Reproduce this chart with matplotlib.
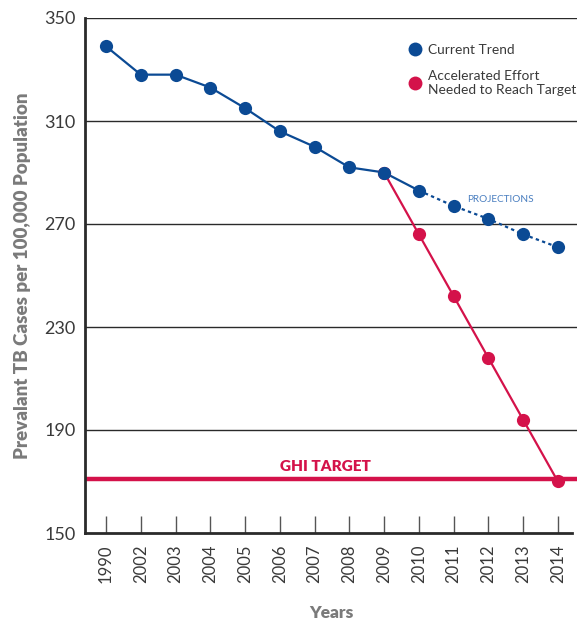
import matplotlib
matplotlib.use("Agg")
import matplotlib.pyplot as plt
from matplotlib.lines import Line2D

years = ["1990", "2002", "2003", "2004", "2005", "2006", "2007",
         "2008", "2009", "2010", "2011", "2012", "2013", "2014"]
current_trend = [339, 328, 328, 323, 315, 306, 300, 292, 290, 283, 277, 272, 266, 261]
accelerated = [None, None, None, None, None, None, None, None, 290, 266, 242, 218, 194, 170]
ghi_target = 171
y_ticks = [150, 190, 230, 270, 310, 350]

BLUE = "#0b4a94"
RED = "#d4124a"
GRID = "#2a2a2a"
TEXT = "#3a3a3a"
LABEL = "#7a7a7a"

plt.rcParams['font.family'] = ['Lato', 'DejaVu Sans']

fig = plt.figure(figsize=(5.8, 6.25), dpi=100)
ax = fig.add_axes([85/580, 1-533/625, (577-85)/580, (533-18)/625])

x = list(range(len(years)))
n_solid = years.index("2010") + 1

for v in y_ticks[1:]:
    ax.axhline(v, color=GRID, lw=1.0, zorder=1)

ax.axhline(ghi_target, color=RED, lw=3.2, zorder=2)
ax.text(6.3, ghi_target + 2.2, "GHI TARGET", color=RED, fontsize=11,
        fontweight='heavy', ha='center', va='bottom')

# current trend: solid then dotted projections
ax.plot(x[:n_solid], current_trend[:n_solid], color=BLUE, lw=1.6, zorder=3)
ax.plot(x[n_solid-1:], current_trend[n_solid-1:], color=BLUE, lw=1.6,
        linestyle=(0, (1.5, 1.5)), zorder=3)

ax_x = [xi for xi, v in zip(x, accelerated) if v is not None]
ax_y = [v for v in accelerated if v is not None]
ax.plot(ax_x, ax_y, color=RED, lw=1.6, zorder=4)
ax.plot(ax_x, ax_y, 'o', color=RED, ms=9.5, zorder=4, markeredgewidth=0)
ax.plot(x, current_trend, 'o', color=BLUE, ms=9.5, zorder=5, markeredgewidth=0)

ax.text(10.4, 279.5, "PROJECTIONS", color="#4a7fc0", fontsize=7.2,
        ha='left', va='center')

ax.set_xlim(-0.604, 13.55)
ax.set_ylim(150, 350)
ax.set_xticks(x)
ax.set_xticklabels(years, rotation=90, fontsize=12, color=TEXT)
ax.set_yticks(y_ticks)
ax.set_yticklabels([str(v) for v in y_ticks], fontsize=13, color=TEXT)
ax.tick_params(axis='x', direction='in', length=12, width=1, color="#555555", pad=8)
ax.tick_params(axis='y', length=0, pad=7)

for s in ['top', 'right']:
    ax.spines[s].set_visible(False)
ax.spines['left'].set_linewidth(2)
ax.spines['left'].set_color(GRID)
ax.spines['bottom'].set_linewidth(2)
ax.spines['bottom'].set_color(GRID)
ax.spines['bottom'].set_bounds(-0.604, 13.40)

ax.set_ylabel("Prevalant TB Cases per 100,000 Population", fontsize=13.5,
              fontweight='heavy', color=LABEL, labelpad=9)
ax.set_xlabel("Years", fontsize=12.5, fontweight='heavy', color=LABEL, labelpad=16)

handles = [Line2D([], [], marker='o', ls='', color=BLUE, ms=10, markeredgewidth=0),
           Line2D([], [], marker='o', ls='', color=RED, ms=10, markeredgewidth=0)]
leg = ax.legend(handles, ["Current Trend", "Accelerated Effort\nNeeded to Reach Target"],
                loc='upper left', bbox_to_anchor=(0.628, 0.974), frameon=False,
                fontsize=9.9, handletextpad=0.35, labelspacing=1.05, handlelength=1.2)
for t in leg.get_texts():
    t.set_color(TEXT)

fig.savefig("out.png", dpi=100)
